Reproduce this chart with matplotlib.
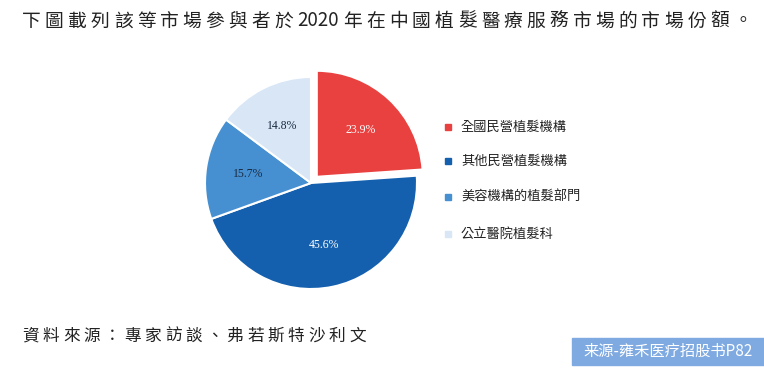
import matplotlib
matplotlib.use("Agg")
import matplotlib.pyplot as plt
from matplotlib.patches import Rectangle

plt.rcParams['font.family'] = ['Noto Sans CJK TC', 'DejaVu Sans']

categories = ['全國民營植髮機構', '其他民營植髮機構', '美容機構的植髮部門', '公立醫院植髮科']
values = [23.9, 45.6, 15.7, 14.8]
colors = ['#E8413F', '#1560AE', '#4690D2', '#D8E6F6']
label_colors = ['white', 'white', '#1a2a40', '#1a2a40']
explode = [0.08, 0, 0, 0]
title = '下圖載列該等市場參與者於2020年在中國植髮醫療服務市場的市場份額。'
source = '資料來源：專家訪談、弗若斯特沙利文'
watermark = '来源-雍禾医疗招股书P82'

W, H = 764, 378
fig = plt.figure(figsize=(W / 100, H / 100), dpi=100)
renderer = fig.canvas.get_renderer()


def spaced_text(s, x0, x1, y, **kw):
    """Place string from x0 to x1 (pixels) with even tracking between glyphs."""
    tokens = []
    for ch in s:
        if tokens and ch.isdigit() and tokens[-1].isdigit():
            tokens[-1] += ch
        else:
            tokens.append(ch)
    arts = []
    widths = []
    for tk in tokens:
        t = fig.text(0, (H - y) / H, tk, va='center', ha='left', **kw)
        w = t.get_window_extent(renderer).width
        arts.append(t)
        widths.append(w)
    gap = (x1 - x0 - sum(widths)) / max(len(tokens) - 1, 1)
    x = x0
    for t, w in zip(arts, widths):
        t.set_x(x / W)
        x += w + gap


# pie axes
r_px = 106
cx, cy = 311, 183
lim = 1.2
size = 2 * lim * r_px
ax = fig.add_axes([(cx - size / 2) / W, (H - cy - size / 2) / H, size / W, size / H])
wedges, texts, autotexts = ax.pie(
    values, colors=colors, explode=explode, startangle=90, counterclock=False,
    autopct='%.1f%%', pctdistance=0.6,
    wedgeprops=dict(edgecolor='white', linewidth=1.5),
    textprops=dict(family='Liberation Serif', fontsize=8.5))
for t, c in zip(autotexts, label_colors):
    t.set_color(c)
ax.set_xlim(-lim, lim)
ax.set_ylim(-lim, lim)
ax.set_aspect('equal')
ax.axis('off')

# legend
leg_y = [127, 161, 197, 234]
for cat, col, y in zip(categories, colors, leg_y):
    fig.patches.append(Rectangle((445 / W, (H - y - 3) / H), 6 / W, 6 / H,
                                 transform=fig.transFigure, color=col, figure=fig))
    fig.text(461 / W, (H - y) / H, cat, fontsize=9.5, color='#222222',
             va='center', ha='left')

# title
spaced_text(title, 22, 752, 21, fontsize=13.5, color='#222222')

# source
spaced_text(source, 22, 366, 336, fontsize=12, color='#222222')

# watermark box
fig.patches.append(Rectangle((572 / W, (H - 365) / H), (W - 572) / W, 27 / H,
                             transform=fig.transFigure, color='#7EA9E1', figure=fig))
fig.text(668 / W, (H - 351) / H, watermark, fontsize=11,
         color='white', va='center', ha='center',
         family=['Noto Sans CJK SC', 'DejaVu Sans'])

fig.savefig('out.png', dpi=100)
